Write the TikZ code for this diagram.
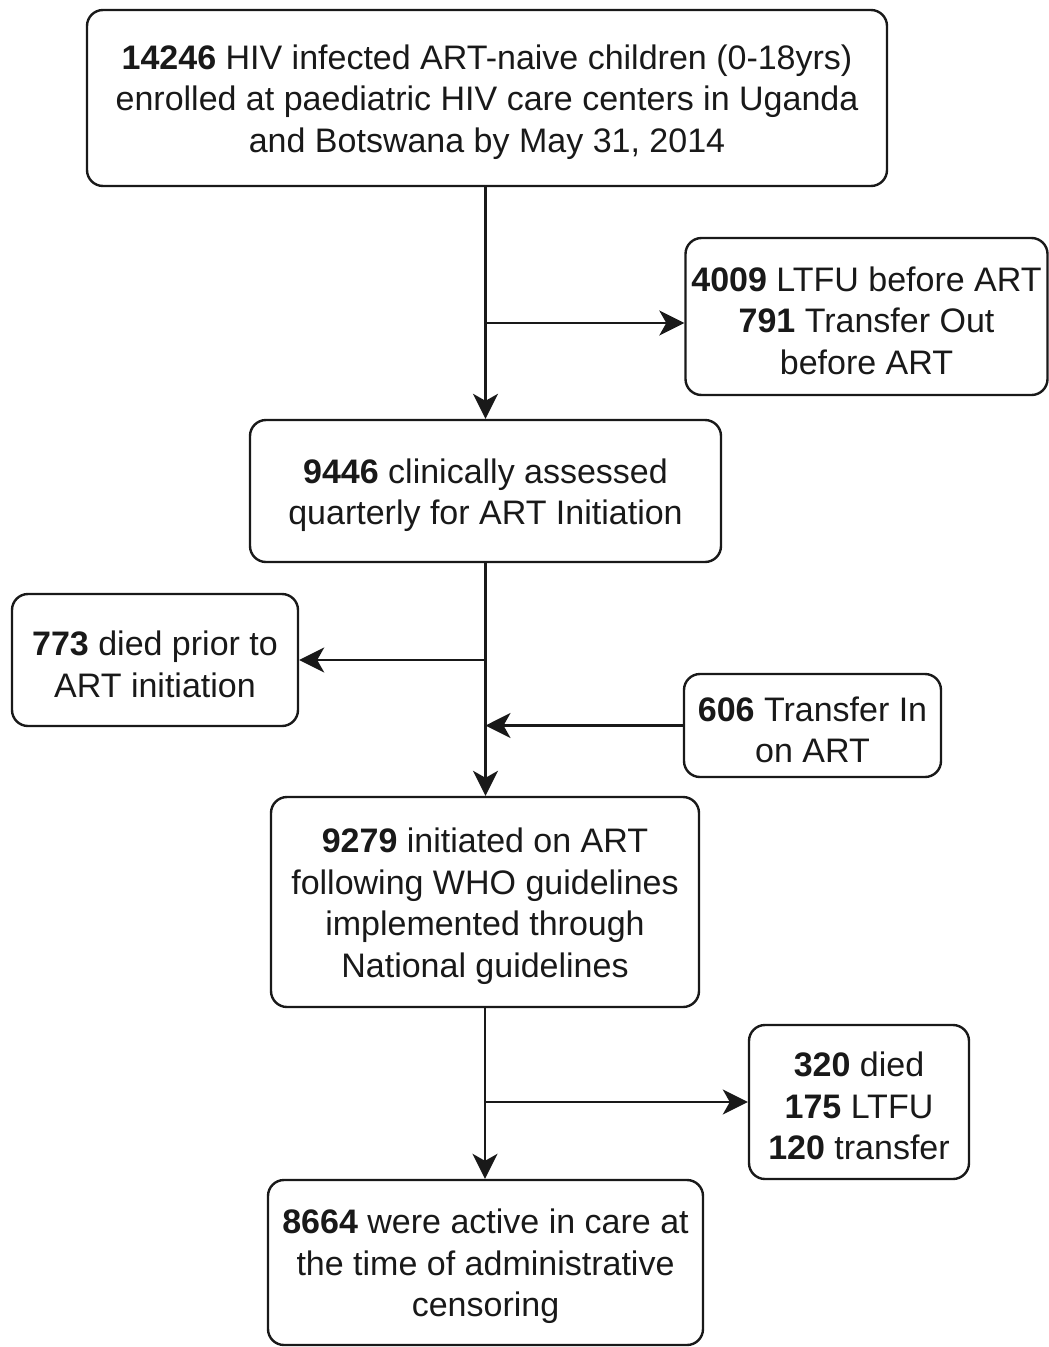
\documentclass[tikz,border=0pt]{standalone}
\usepackage{fontspec}
\setmainfont{Liberation Sans}
\usetikzlibrary{arrows.meta}
\newcommand\topstrut{\rule{0pt}{33pt}}
\begin{document}
\begin{tikzpicture}[x=1pt,y=-1pt,
  box/.style={draw=black!90, line width=2.4pt, rounded corners=16pt, inner sep=0pt, align=center,
     font=\fontsize{34}{41.5}\selectfont, text=black!90},
  arr/.style={line width=2.4pt, draw=black!90, -{Stealth[length=25pt,width=25pt,inset=7pt]}}]
\useasboundingbox[fill=white] (0,0) rectangle (1049,1347);

\node[box, minimum width=800, minimum height=176] (n1) at (487,98)
  {\topstrut\textbf{14246} HIV infected ART-naive children (0-18yrs)\\ enrolled at paediatric HIV care centers in Uganda\\ and Botswana by May 31, 2014};
\node[box, minimum width=362, minimum height=157] (r1) at (866.5,316.5)
  {\topstrut\textbf{4009} LTFU before ART\\ \textbf{791} Transfer Out\\ before ART};
\node[box, minimum width=471, minimum height=142] (n2) at (485.5,491)
  {\topstrut\textbf{9446} clinically assessed\\ quarterly for ART Initiation};
\node[box, minimum width=286, minimum height=132] (l1) at (155,660)
  {\topstrut\textbf{773} died prior to\\ ART initiation};
\node[box, minimum width=257, minimum height=103] (r2) at (812.5,725.5)
  {\topstrut\textbf{606} Transfer In\\ on ART};
\node[box, minimum width=428, minimum height=210] (n3) at (485,902)
  {\topstrut\textbf{9279} initiated on ART\\ following WHO guidelines\\ implemented through\\ National guidelines};
\node[box, minimum width=220, minimum height=154] (r3) at (859,1102)
  {\topstrut\textbf{320} died\\ \textbf{175} LTFU\\ \textbf{120} transfer};
\node[box, minimum width=435, minimum height=165] (n4) at (485.5,1262.5)
  {\topstrut\textbf{8664} were active in care at\\ the time of administrative\\ censoring};

\coordinate (b1) at (485.5,323);
\coordinate (b2) at (485.5,660);
\coordinate (b3) at (485.5,725.5);
\coordinate (b4) at (485.5,1102);

\draw[arr] (n1.south -| n2.north) -- (n2.north);
\draw[arr] (b1) -- (b1 -| r1.west);
\draw[arr] (n2.south) -- (n3.north -| n2.south);
\draw[arr] (b2) -- (l1.east);
\draw[arr] (r2.west) -- (b3);
\draw[arr] (n3.south) -- (n4.north -| n3.south);
\draw[arr] (b4) -- (r3.west);
\end{tikzpicture}
\end{document}
